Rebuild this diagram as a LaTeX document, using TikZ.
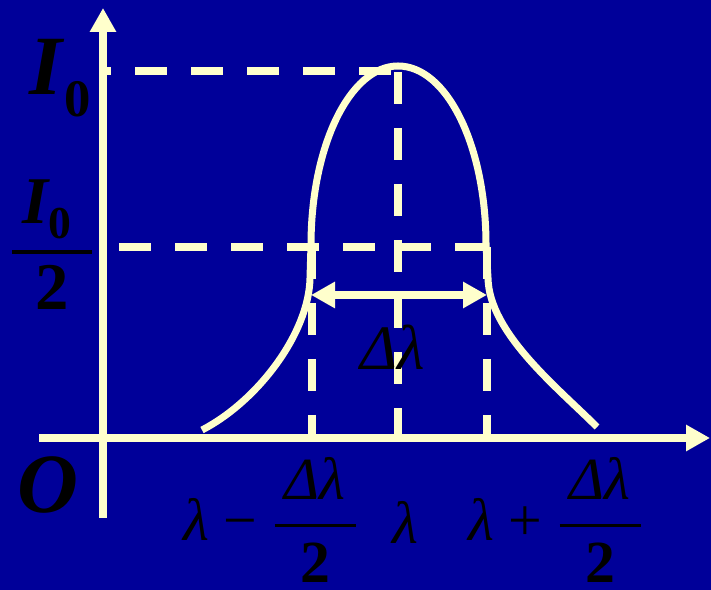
\documentclass[tikz,border=0pt]{standalone}
\usepackage{amsmath}
\usepackage{fontspec}
\setmainfont{Liberation Serif}
\usetikzlibrary{arrows.meta}

\definecolor{slidebg}{RGB}{0,0,153}
\definecolor{chalk}{RGB}{255,255,204}

\begin{document}
\begin{tikzpicture}[>={Triangle[length=0.24cm, width=0.25cm]}]

% --- STYLES ---
\tikzset{
  axisline/.style={chalk, line width=0.08cm, ->},
  guideline/.style={chalk, line width=0.08cm, dash pattern=on 0.32cm off 0.24cm},
  bandcurve/.style={chalk, line width=0.07cm},
  widtharrow/.style={chalk, line width=0.08cm, <->},
  lbl/.style={text=black, inner sep=0pt},
}

% --- BACKGROUND (slide) ---
\fill[slidebg] (-1.03,-1.52) rectangle (6.08,4.38);
\useasboundingbox (-1.03,-1.52) rectangle (6.08,4.38);

% --- KEY POINTS ---
\coordinate (O) at (0,0);
\coordinate (ytail) at (0,-0.80);
\coordinate (ytip) at (0,4.30);
\coordinate (xtail) at (-0.64,0);
\coordinate (xtip) at (6.07,0);
\coordinate (Imark) at (0,3.67);    % level of I0 on the axis
\coordinate (Itop) at (2.95,3.67);
\coordinate (peak) at (2.95,3.66);
\coordinate (centre) at (2.95,0);
\coordinate (Hmark) at (0.16,1.91); % half height
\coordinate (Hend) at (3.87,1.91);
\coordinate (hl) at (2.09,1.91);
\coordinate (hr) at (3.84,1.91);
\coordinate (bl) at (2.09,0);
\coordinate (br) at (3.84,0);
\coordinate (wl) at (2.08,1.43);
\coordinate (wr) at (3.84,1.43);

% --- 1. GUIDE LINES (dashed) ---
\draw[guideline, dash phase=0.24cm] (Imark) -- (Itop);
\draw[guideline] (peak) -- (centre);
\draw[guideline] (Hmark) -- (Hend);
\draw[guideline] (hl) -- (bl);
\draw[guideline] (hr) -- (br);

% --- 2. AXES ---
\draw[axisline] (ytail) -- (ytip);
\draw[axisline] (xtail) -- (xtip);

% --- 3. SPECTRAL LINE PROFILE ---
% tails + elliptic top
\draw[bandcurve] (0.99,0.08) .. controls (1.55,0.37) and (2.06,1.05) .. (2.07,1.60)
  -- (2.08,1.93) .. controls (2.08,2.92) and (2.47,3.72) .. (2.95,3.72)
  .. controls (3.44,3.72) and (3.83,2.92) .. (3.83,1.93)
  -- (3.85,1.60) .. controls (3.86,1.05) and (4.55,0.50) .. (4.94,0.11);

% --- 4. LINE WIDTH ARROW ---
\draw[widtharrow] (wl) -- (wr);

% --- 5. LABELS ---
\node[lbl, font=\fontsize{24}{28}\selectfont] (Imax) at (-0.43,3.60)
  {\textbf{\textit{I}}\raisebox{-6.3pt}{\fontsize{15}{18}\selectfont\bfseries 0}};
\node[lbl, font=\fontsize{19}{23}\selectfont] (Ihalf) at (-0.51,1.93)
  {$\genfrac{}{}{1.1pt}{0}{\,\text{\bfseries\itshape I\raisebox{-4pt}{\fontsize{13}{15}\selectfont\upshape 0}}\,\,}{\text{\bfseries 2}}$};
\node[lbl, font=\fontsize{24}{28}\selectfont] (orig) at (-0.55,-0.47) {\textbf{\textit{O}}};
\node[lbl, font=\fontsize{18}{21}\selectfont] (dl) at (2.90,0.91) {\textit{Δλ}};
\node[lbl, font=\fontsize{17}{20}\selectfont] (lminus) at (1.69,-0.82)
  {$\text{\itshape λ}\mathbin{\text{−}}\genfrac{}{}{0.85pt}{0}{\,\text{\itshape Δλ}\,}{\text{\bfseries 2}}$};
\node[lbl, font=\fontsize{17}{20}\selectfont] (lcentre) at (3.02,-0.84) {\textit{λ}};
\node[lbl, font=\fontsize{17}{20}\selectfont] (lplus) at (4.54,-0.82)
  {$\text{\itshape λ}\mathbin{\text{+}}\genfrac{}{}{0.85pt}{0}{\,\text{\itshape Δλ}\,}{\text{\bfseries 2}}$};

\end{tikzpicture}
\end{document}
